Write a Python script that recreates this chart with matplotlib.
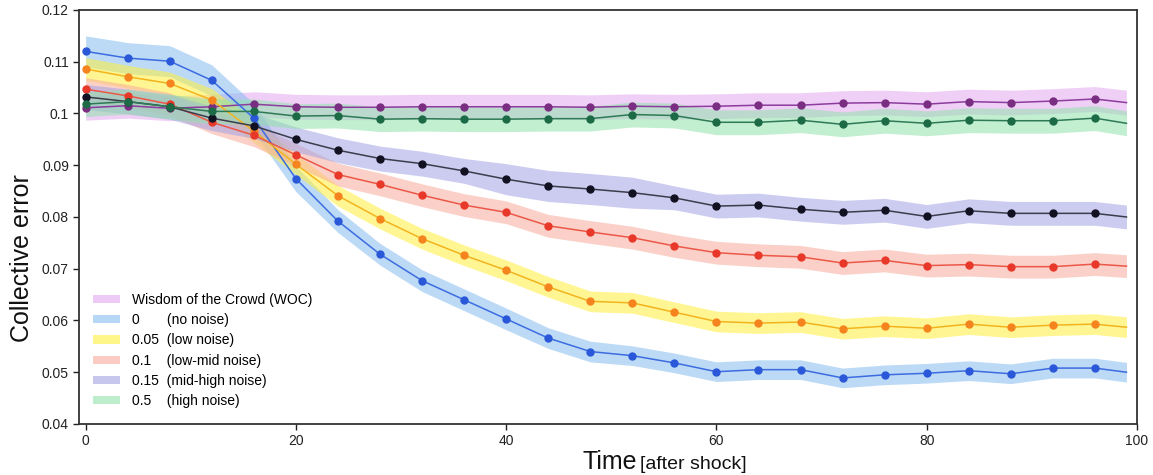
import numpy as np
import matplotlib
matplotlib.use("Agg")
import matplotlib.pyplot as plt
from matplotlib.patches import Patch
from matplotlib.ticker import FuncFormatter

plt.rcParams['font.family'] = ['Liberation Sans', 'DejaVu Sans']

# time steps of the plotted points (markers on all but the last one)
time = [0, 4, 8, 12, 16, 20, 24, 28, 32, 36, 40, 44, 48, 52, 56, 60,
        64, 68, 72, 76, 80, 84, 88, 92, 96, 99]

err_woc = [.1011, .1015, .1010, .1013, .1018, .1013, .1012, .1012, .1013, .1013, .1013, .1013, .1012,
           .1014, .1013, .1014, .1016, .1016, .1020, .1021, .1018, .1023, .1021, .1024, .1028, .1021]
err_0 = [.1120, .1107, .1101, .1064, .0991, .0874, .0792, .0728, .0677, .0640, .0603, .0566, .0540,
         .0532, .0518, .0501, .0505, .0505, .0489, .0495, .0498, .0503, .0497, .0508, .0508, .0500]
err_005 = [.1086, .1071, .1058, .1026, .0966, .0902, .0841, .0797, .0758, .0726, .0697, .0665, .0637,
           .0634, .0616, .0598, .0595, .0597, .0584, .0589, .0585, .0593, .0587, .0591, .0593, .0587]
err_01 = [.1047, .1034, .1018, .0983, .0958, .0920, .0882, .0863, .0842, .0823, .0809, .0783, .0771,
          .0760, .0744, .0731, .0726, .0723, .0711, .0716, .0706, .0708, .0704, .0704, .0709, .0705]
err_015 = [.1032, .1023, .1013, .0991, .0976, .0950, .0929, .0913, .0903, .0889, .0873, .0860, .0854,
           .0847, .0837, .0821, .0823, .0815, .0809, .0813, .0801, .0812, .0807, .0807, .0807, .0800]
err_05 = [.1018, .1023, .1013, .1004, .1004, .0995, .0996, .0989, .0990, .0989, .0989, .0990, .0990,
          .0998, .0996, .0983, .0983, .0987, .0979, .0986, .0981, .0987, .0986, .0986, .0991, .0981]

# half width of the confidence band around each curve
band_woc = [.0024] * 26
band_0 = [.0030, .0030, .0030, .0030, .0028, .0025, .0022, .0021, .0021, .0021, .0021, .0020, .0020,
          .0019, .0019, .0019, .0019, .0019, .0019, .0019, .0019, .0019, .0019, .0019, .0019, .0019]
band_005 = [.0022] * 5 + [.0020] * 21
band_01 = [.0022] * 26
band_015 = [.0024] * 10 + [.0030] * 4 + [.0023] * 12
band_05 = [.0024] * 26

labels = ['Wisdom of the Crowd (WOC)',
          '0       (no noise)',
          '0.05  (low noise)',
          '0.1    (low-mid noise)',
          '0.15  (mid-high noise)',
          '0.5    (high noise)']

series = [err_woc, err_0, err_005, err_01, err_015, err_05]
bands = [band_woc, band_0, band_005, band_01, band_015, band_05]
fill_colors = ['#e4a8f2', '#86bdf0', '#fff03a', '#f8aa9c', '#a3a3e4', '#92e2ac']
line_colors = ['#8c3c9c', '#3c6ce0', '#f2b41e', '#ec5848', '#3c3c4c', '#2e7a56']
marker_colors = ['#7a2e82', '#2a58d8', '#f5841e', '#e8382a', '#111122', '#1c6b46']

fig = plt.figure(figsize=(11.53, 4.75), dpi=100)
ax = fig.add_axes([0.0688, 0.1074, 0.9173, 0.8716])

t = np.array(time)
for i, (y, hw) in enumerate(zip(series, bands)):
    y = np.array(y)
    hw = np.array(hw)
    ax.fill_between(t, y - hw, y + hw, color=fill_colors[i], alpha=0.55, lw=0, zorder=1 + i)
    ax.plot(t, y, color=line_colors[i], lw=1.1, zorder=10 + i,
            marker='o', ms=5, mfc=marker_colors[i], mec=marker_colors[i],
            markevery=slice(0, len(t) - 1))

ax.set_xlim(-0.6, 100)
ax.set_ylim(0.04, 0.12)
ax.set_xticks([0, 20, 40, 60, 80, 100])
ax.set_yticks([0.04, 0.05, 0.06, 0.07, 0.08, 0.09, 0.1, 0.11, 0.12])
ax.yaxis.set_major_formatter(FuncFormatter(lambda v, p: '%g' % round(v, 2)))
ax.tick_params(direction='out', length=4, width=1, labelsize=10, colors='#222222')
for s in ax.spines.values():
    s.set_color('#333333')
    s.set_linewidth(1.3)

ax.set_ylabel('Collective error', fontsize=18, color='#111111')
ax.yaxis.set_label_coords(-0.043, 0.40)
fig.text(0.505, 0.012, 'Time', fontsize=18, color='#111111', ha='left', va='baseline')
fig.text(0.555, 0.012, '[after shock]', fontsize=14, color='#111111', ha='left', va='baseline')

handles = [Patch(facecolor=c, edgecolor='none', alpha=0.6) for c in fill_colors]
ax.legend(handles, labels, loc='upper left', bbox_to_anchor=(0.008, 0.33), frameon=False,
          fontsize=10, handlelength=1.9, handleheight=0.55, handletextpad=0.9,
          labelspacing=0.45, borderaxespad=0)

fig.savefig('out.png', dpi=100)
